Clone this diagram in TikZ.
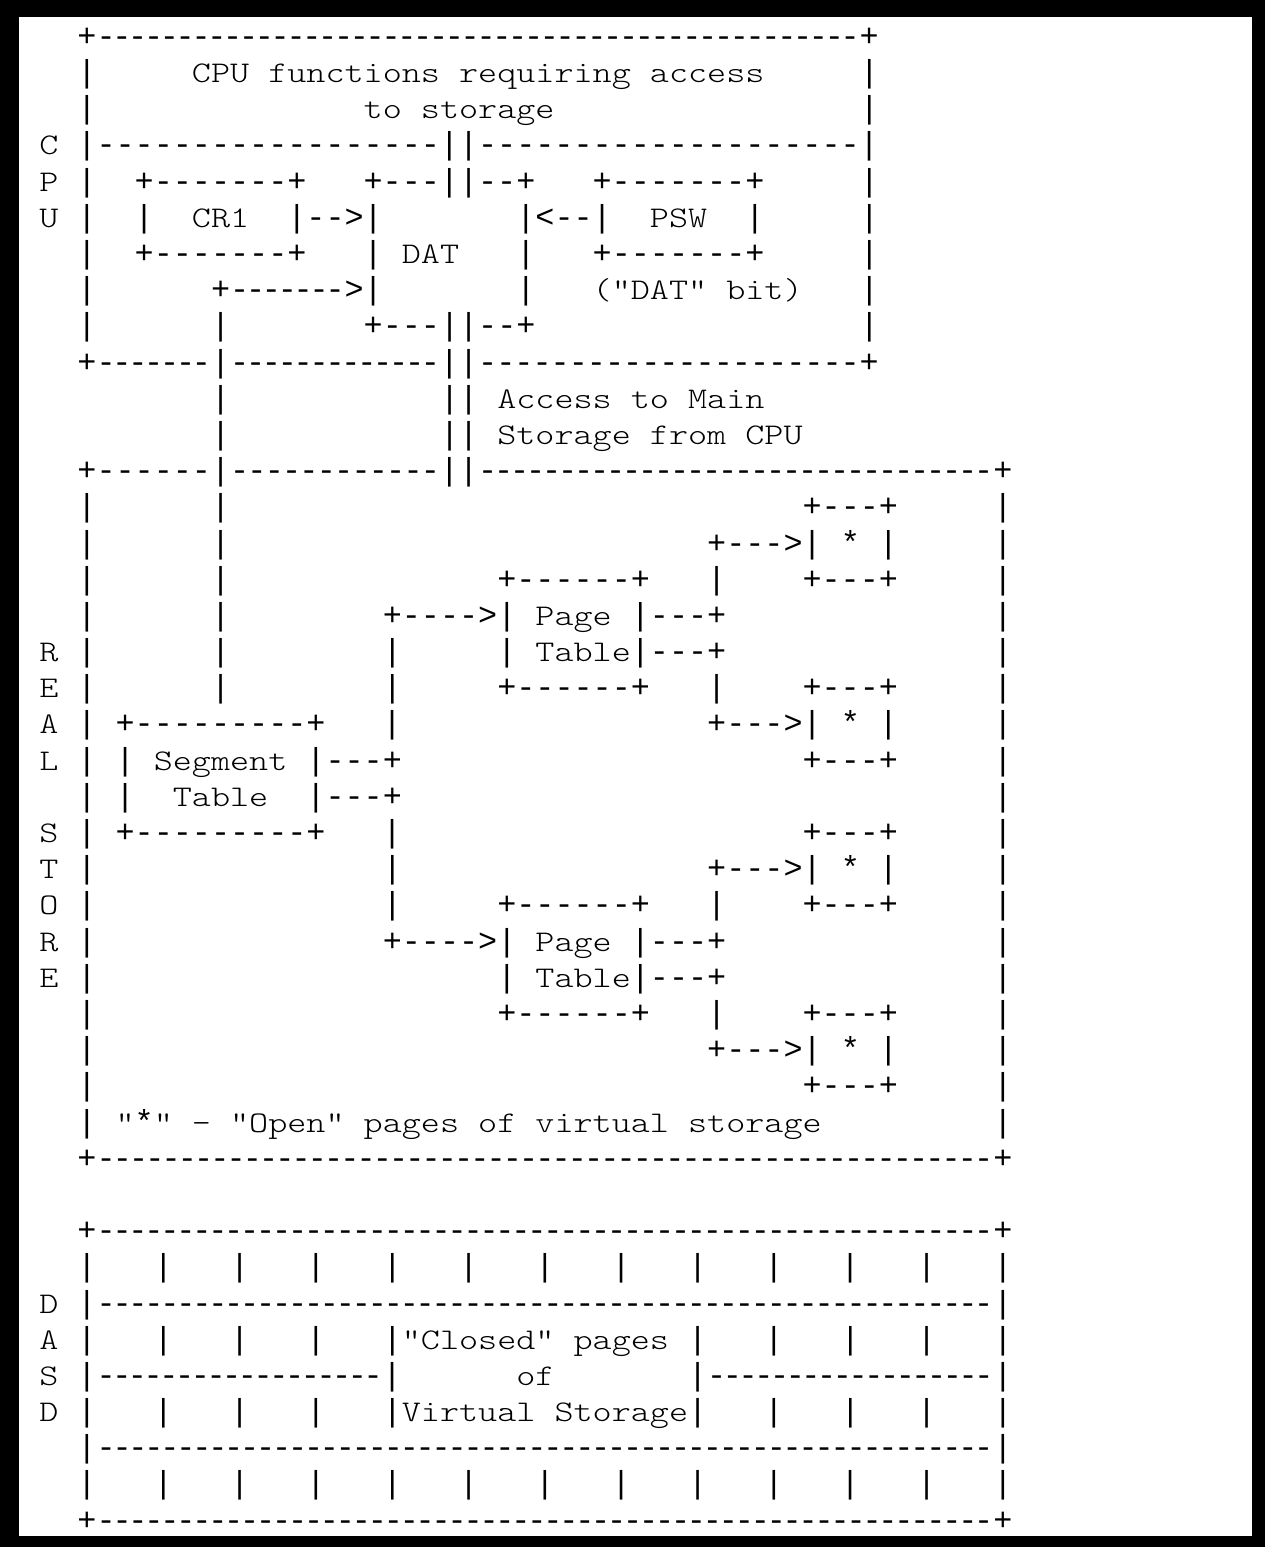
\documentclass[tikz,border=0pt]{standalone}
\usepackage{fontspec}
\setmonofont{Liberation Mono}
\newfontfamily\lblfont{lmmonolt10-regular.otf}[FakeStretch=1.2116]
\usetikzlibrary{positioning}

% one character cell of the ascii grid
\newlength\cw
\setlength\cw{19.083pt}
% blank cells
\newcommand\sk[1]{\hspace*{#1\cw}}
% words inside the drawing
\newcommand\lbl[1]{{\lblfont\fontsize{30pt}{36pt}\selectfont #1}}
% #1 dashes spread over #2 cells
\newcommand\dd[2]{\makebox[#2\cw][l]{\foreach \dn in {1,...,#1}{\makebox[0pt][l]{\hspace*{\dimexpr\cw*\numexpr(#2-1)*(\dn-1)\relax/\numexpr#1-1\relax\relax}-}}}}
% one line of the drawing: name, first column, line number, text
\newcommand\arow[4]{\node[asciitext] (#1) at ({20.21+19.083*#2},{1500.6-36.19*(#3-1)}) {#4};}

\tikzset{
  asciitext/.style={anchor=base west, inner sep=0pt, outer sep=0pt,
    font=\ttfamily\fontsize{31.8pt}{36pt}\selectfont\frenchspacing}
}

\begin{document}
\begin{tikzpicture}[x=1pt, y=1pt]
  % frame
  \fill[black] (0,0) rectangle (1265,1547);
  \fill[white] (19,11) rectangle (1252,1530);
  \useasboundingbox (0,0) rectangle (1265,1547);

  % CPU
  \arow{r01}{3}{1}{+\dd{48}{40}+}
  \arow{r02}{3}{2}{|\sk5\lbl{CPU functions requiring access}\sk5|}
  \arow{r03}{3}{3}{|\sk{14}\lbl{to storage}\sk{16}|}
  \arow{r04}{1}{4}{\lbl{C} |------------------||--------------------|}
  \arow{r05}{1}{5}{\lbl{P} |\sk2+-------+\sk3+---||--+\sk3+-------+\sk5|}
  \arow{r06}{1}{6}{\lbl{U} |\sk2|\sk2\lbl{CR1}\sk2|-->|\sk7|<--|\sk2\lbl{PSW}\sk2|\sk5|}
  \arow{r07}{3}{7}{|\sk2+-------+\sk3| \lbl{DAT}\sk3|\sk3+-------+\sk5|}
  \arow{r08}{3}{8}{|\sk6+\dd{7}{6}>|\sk7|\sk3\lbl{("DAT" bit)}\sk3|}
  \arow{r09}{3}{9}{|\sk6|\sk7+---||--+\sk{17}|}
  \arow{r10}{3}{10}{+\dd{7}{6}|\dd{13}{11}||\dd{21}{20}+}
  \arow{r11}{10}{11}{|\sk{11}|| \lbl{Access to Main}}
  \arow{r12}{10}{12}{|\sk{11}|| \lbl{Storage from CPU}}

  % real store
  \arow{r13}{3}{13}{+------|\dd{12}{11}||\dd{32}{27}+}
  \arow{r14}{3}{14}{|\sk6|\sk{30}+---+\sk5|}
  \arow{r15}{3}{15}{|\sk6|\sk{25}+--->| * |\sk5|}
  \arow{r16}{3}{16}{|\sk6|\sk{14}+------+\sk3|\sk4+---+\sk5|}
  \arow{r17}{3}{17}{|\sk6|\sk8+---->| \lbl{Page} |---+\sk{14}|}
  \arow{r18}{1}{18}{\lbl{R} |\sk6|\sk8|\sk5| \lbl{Table}|---+\sk{14}|}
  \arow{r19}{1}{19}{\lbl{E} |\sk6|\sk8|\sk5+------+\sk3|\sk4+---+\sk5|}
  \arow{r20}{1}{20}{\lbl{A} | +---------+\sk3|\sk{16}+--->| * |\sk5|}
  \arow{r21}{1}{21}{\lbl{L} | | \lbl{Segment} |---+\sk{21}+---+\sk5|}
  \arow{r22}{3}{22}{| |\sk2\lbl{Table}\sk2|---+\sk{31}|}
  \arow{r23}{1}{23}{\lbl{S} | +---------+\sk3|\sk{21}+---+\sk5|}
  \arow{r24}{1}{24}{\lbl{T} |\sk{15}|\sk{16}+--->| * |\sk5|}
  \arow{r25}{1}{25}{\lbl{O} |\sk{15}|\sk5+------+\sk3|\sk4+---+\sk5|}
  \arow{r26}{1}{26}{\lbl{R} |\sk{15}+---->| \lbl{Page} |---+\sk{14}|}
  \arow{r27}{1}{27}{\lbl{E} |\sk{21}| \lbl{Table}|---+\sk{14}|}
  \arow{r28}{3}{28}{|\sk{21}+------+\sk3|\sk4+---+\sk5|}
  \arow{r29}{3}{29}{|\sk{32}+--->| * |\sk5|}
  \arow{r30}{3}{30}{|\sk{37}+---+\sk5|}
  \arow{r31}{3}{31}{| \lbl{"}*\lbl{" - "Open" pages of virtual storage}\sk9|}
  \arow{r32}{3}{32}{+\dd{55}{47}+}

  % DASD
  \arow{r34}{3}{34}{+\dd{56}{47}+}
  \arow{r35}{3}{35}{|\sk3|\sk3|\sk3|\sk3|\sk3|\sk3|\sk3|\sk3|\sk3|\sk3|\sk3|\sk3|}
  \arow{r36}{1}{36}{\lbl{D} |\dd{56}{47}|}
  \arow{r37}{1}{37}{\lbl{A} |\sk3|\sk3|\sk3|\sk3|\lbl{"Closed" pages} |\sk3|\sk3|\sk3|\sk3|}
  \arow{r38}{1}{38}{\lbl{S} |\dd{18}{15}|\sk6\lbl{of}\sk7|\dd{18}{15}|}
  \arow{r39}{1}{39}{\lbl{D} |\sk3|\sk3|\sk3|\sk3|\lbl{Virtual Storage}|\sk3|\sk3|\sk3|\sk3|}
  \arow{r40}{3}{40}{|\dd{56}{47}|}
  \arow{r41}{3}{41}{|\sk3|\sk3|\sk3|\sk3|\sk3|\sk3|\sk3|\sk3|\sk3|\sk3|\sk3|\sk3|}
  \arow{r42}{3}{42}{+\dd{56}{47}+}
\end{tikzpicture}
\end{document}
